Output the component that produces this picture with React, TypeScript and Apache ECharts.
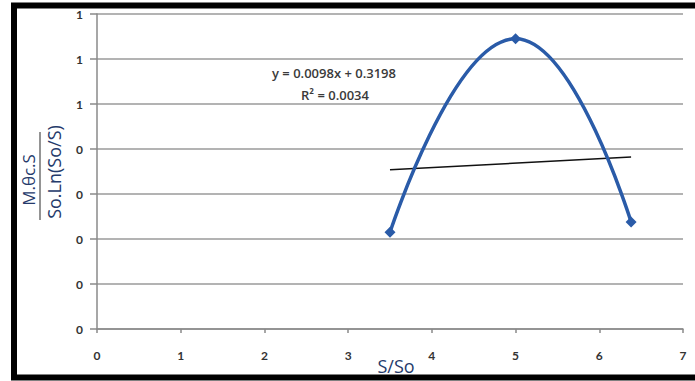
import React, { useEffect, useRef } from "react";
import * as echarts from "echarts";

const xTicks = [0, 1, 2, 3, 4, 5, 6, 7];
const curveX = [3.5, 5.0, 6.38];
const curveY = [0.215, 0.645, 0.238];
const trendX = [3.5, 6.38];
const trendY = [0.354, 0.382];
const equationLines = ["y = 0.0098x + 0.3198", "R² = 0.0034"];
const yTitleTop = "M.θc.S";
const yTitleBottom = "So.Ln(So/S)";
const xTitle = "S/So";

export default function App() {
  const ref = useRef<HTMLDivElement>(null);
  useEffect(() => {
    if (!ref.current) return;
    const chart = echarts.init(ref.current, null, { renderer: "svg" });
    const font = "Lato, 'Open Sans', sans-serif";
    const font2 = "'Open Sans', Lato, sans-serif";
    const titleColor = "#253a6b";
    chart.setOption({
      animation: false,
      backgroundColor: "#ffffff",
      grid: { left: 97, right: 12, top: 14, bottom: 52 },
      xAxis: {
        type: "value",
        min: xTicks[0],
        max: xTicks[xTicks.length - 1],
        interval: 1,
        axisLine: { show: true, lineStyle: { color: "#8a8a8a", width: 1.5 } },
        axisTick: { show: true, inside: false, length: 4, lineStyle: { color: "#8a8a8a", width: 1.5 } },
        axisLabel: { margin: 20, fontFamily: font, fontWeight: "bold", fontSize: 12, color: "#333" },
        splitLine: { show: false },
      },
      yAxis: {
        type: "value",
        min: 0,
        max: 0.7,
        interval: 0.1,
        axisLine: { show: true, lineStyle: { color: "#8a8a8a", width: 1.5 } },
        axisTick: { show: true, inside: false, length: 7, lineStyle: { color: "#8a8a8a", width: 1.5 } },
        axisLabel: {
          margin: 14,
          fontFamily: font,
          fontWeight: "bold",
          fontSize: 12,
          color: "#333",
          formatter: (v: number) => String(Math.round(v + 1e-9)),
        },
        splitLine: { show: true, lineStyle: { color: "#9a9a9a", width: 1.5 } },
      },
      series: [
        {
          type: "line",
          data: curveX.map((x, i) => [x, curveY[i]]),
          smooth: 0.5,
          symbol: "diamond",
          symbolSize: 11,
          lineStyle: { color: "#2a5ba8", width: 3.5 },
          itemStyle: { color: "#2a5ba8" },
          z: 3,
        },
        {
          type: "line",
          data: trendX.map((x, i) => [x, trendY[i]]),
          symbol: "none",
          lineStyle: { color: "#111", width: 1.5 },
          z: 2,
        },
      ],
      graphic: [
        {
          type: "text",
          x: 334,
          y: 73,
          style: {
            text: equationLines[0],
            fontFamily: font2,
            fontSize: 13,
            fontWeight: 600,
            fill: "#3a3a3a",
            align: "center",
            verticalAlign: "middle",
          },
        },
        {
          type: "text",
          x: 335,
          y: 95,
          style: {
            text: equationLines[1],
            fontFamily: font2,
            fontSize: 13,
            fontWeight: 600,
            fill: "#3a3a3a",
            align: "center",
            verticalAlign: "middle",
          },
        },
        {
          type: "text",
          x: 28,
          y: 180,
          rotation: Math.PI / 2,
          style: {
            text: yTitleTop,
            fontFamily: font2,
            fontSize: 17,
            fill: titleColor,
            align: "center",
            verticalAlign: "middle",
          },
        },
        {
          type: "line",
          shape: { x1: 40, y1: 132, x2: 40, y2: 220 },
          style: { stroke: "#707070", lineWidth: 1.5 },
        },
        {
          type: "text",
          x: 54,
          y: 172,
          rotation: Math.PI / 2,
          style: {
            text: yTitleBottom,
            fontFamily: font2,
            fontSize: 18,
            fill: titleColor,
            align: "center",
            verticalAlign: "middle",
          },
        },
        {
          type: "text",
          x: 396,
          y: 366,
          style: {
            text: xTitle,
            fontFamily: font2,
            fontSize: 18,
            fill: titleColor,
            align: "center",
            verticalAlign: "middle",
          },
        },
        {
          type: "rect",
          shape: { x: 14, y: 5.5, width: 720, height: 372 },
          style: { fill: "none", stroke: "#000", lineWidth: 6 },
          z: 100,
        },
      ],
    });
    return () => chart.dispose();
  }, []);
  return (
    <div
      ref={ref}
      style={{ position: "fixed", left: 0, top: 0, width: 695, height: 381 }}
    />
  );
}
